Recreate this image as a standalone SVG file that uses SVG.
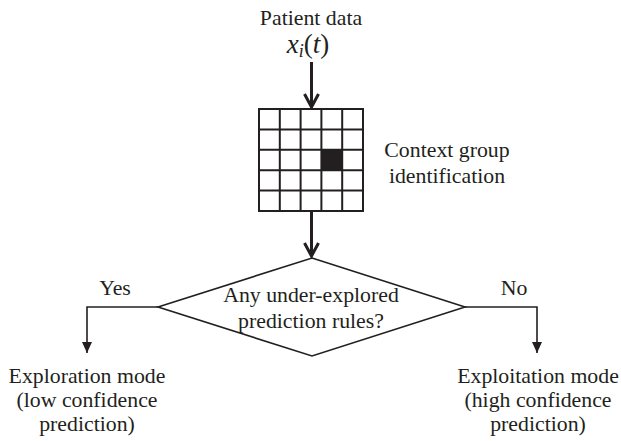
<svg xmlns="http://www.w3.org/2000/svg" width="621" height="441" viewBox="0 0 621 441">
  <style>
    text { font-family: "Liberation Serif", "Times New Roman", serif; fill: #231f20; font-size: 21.8px; }
    .mid { text-anchor: middle; }
    .thick { fill: none; stroke: #231f20; stroke-width: 3; }
    .thin { fill: none; stroke: #231f20; stroke-width: 1.6; }
    .grid { fill: none; stroke: #231f20; stroke-width: 2; }
  </style>
  <defs>
    <marker id="tri" markerWidth="12" markerHeight="10" refX="11" refY="5" orient="auto" markerUnits="userSpaceOnUse">
      <path d="M0,0 L11,5 L0,10 Z" fill="#231f20"/>
    </marker>
  </defs>
  <rect width="621" height="441" fill="#ffffff"/>

  <g id="input">
    <text class="mid" x="311" y="25">Patient data</text>
    <text class="mid" x="308" y="53" style="font-size:27px"><tspan font-style="italic">x</tspan><tspan font-style="italic" font-size="18" dy="4">i</tspan><tspan dy="-4">(</tspan><tspan font-style="italic">t</tspan><tspan>)</tspan></text>
  </g>

  <g id="context-grid">
    <rect x="259" y="109" width="104" height="102" class="grid"/>
    <path class="grid" d="M279.8,109 V211 M300.6,109 V211 M321.4,109 V211 M342.2,109 V211 M259,129.4 H363 M259,149.8 H363 M259,170.2 H363 M259,190.6 H363"/>
    <rect x="321.4" y="149.8" width="20.8" height="20.4" fill="#231f20"/>
    <text class="mid" x="447" y="157">Context group</text>
    <text class="mid" x="447" y="183">identification</text>
  </g>

  <g id="decision">
    <path d="M312,258 L465,307 L312,356 L158,307 Z" fill="#ffffff" stroke="#231f20" stroke-width="1.6"/>
    <text class="mid" x="311" y="302">Any under-explored</text>
    <text class="mid" x="311" y="328">prediction rules?</text>
  </g>

  <g id="exploration">
    <text class="mid" x="87" y="383">Exploration mode</text>
    <text class="mid" x="87" y="407">(low confidence</text>
    <text class="mid" x="87" y="431">prediction)</text>
  </g>

  <g id="exploitation">
    <text class="mid" x="538" y="383">Exploitation mode</text>
    <text class="mid" x="538" y="407">(high confidence</text>
    <text class="mid" x="538" y="431">prediction)</text>
  </g>

  <g id="connectors">
    <path class="thick" d="M311.5,62 V107"/>
    <path class="thick" d="M304.5,94 L311.5,107 L318.5,94"/>
    <path class="thick" d="M311.5,212 V256"/>
    <path class="thick" d="M304.5,243 L311.5,256 L318.5,243"/>
    <path class="thin" d="M158,307 H87 V353" marker-end="url(#tri)"/>
    <path class="thin" d="M465,307 H537 V353" marker-end="url(#tri)"/>
    <text class="mid" x="115" y="295">Yes</text>
    <text class="mid" x="514" y="295">No</text>
  </g>
</svg>
